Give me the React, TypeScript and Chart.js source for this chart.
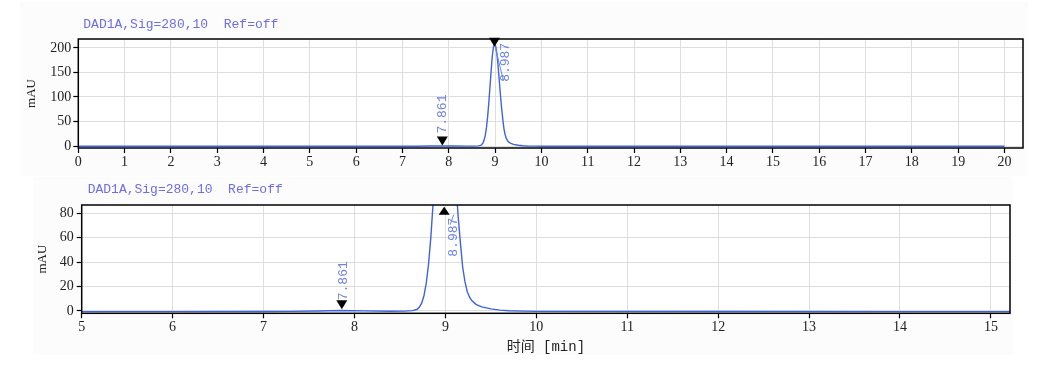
import React, { useEffect, useRef } from "react";
import { Chart, registerables } from "chart.js";

Chart.register(...registerables);

// ---- data ----
const timeMin = [
  0, 2, 4, 6, 7, 7.3, 7.6, 7.861, 8.1, 8.4, 8.55, 8.64, 8.69, 8.715, 8.74, 8.765,
  8.79, 8.815, 8.84, 8.865, 8.89, 8.915, 8.94, 8.965, 8.99, 9.015, 9.04, 9.065,
  9.09, 9.115, 9.14, 9.165, 9.19, 9.215, 9.24, 9.265, 9.29, 9.34, 9.4, 9.5, 9.6,
  9.7, 9.85, 10, 12, 14, 16, 18, 20,
];
const signalMAU = [
  -0.5, -0.5, -0.5, -0.5, -0.4, -0.3, 0, 0.4, 0.1, -0.2, -0.1, 0.3, 1.4, 3.2, 6.6, 12.7,
  22.9, 38.5, 60.3, 88.4, 120.7, 153.8, 182.9, 202, 208, 203, 187, 163,
  134, 105, 78, 56, 36, 24, 16, 11.5, 8.5, 5.2, 3.3, 1.7, 0.7,
  0.2, -0.1, -0.3, -0.4, -0.5, -0.5, -0.5, -0.5,
];

const topXTicks = [0, 1, 2, 3, 4, 5, 6, 7, 8, 9, 10, 11, 12, 13, 14, 15, 16, 17, 18, 19, 20];
const topYTicks = [0, 50, 100, 150, 200];
const bottomXTicks = [5, 6, 7, 8, 9, 10, 11, 12, 13, 14, 15];
const bottomYTicks = [0, 20, 40, 60, 80];

const peakTimes = [7.861, 8.987];
const peakLabels = ["7.861", "8.987"];
const topMarkerValues = [1, 202];
const bottomMarkerValues = [1.4, 85.4];
const bottomMarkerUp = [false, true];

const signalTitle = "DAD1A,Sig=280,10  Ref=off";
const yAxisTitle = "mAU";
const xAxisTitle = "时间 [min]";

// ---- styles ----
const LINE = "#3e63dd";
const LABEL = "#6f86e6";
const TITLE = "#6d6de8";
const TICK = "#222";
const GRID = "#dedede";
const SERIF = '"Liberation Serif", "Times New Roman", serif';
const MONO = '"Liberation Mono", monospace';

type Panel = {
  width: number;
  height: number;
  padTop: number;
  padRight: number;
  yWidth: number;
  xHeight: number;
  xMin: number;
  xMax: number;
  yMin: number;
  yMax: number;
  xTicks: number[];
  yTicks: number[];
  markerValues: number[];
  markerUp: boolean[];
  labelDx: number[];
  labelStart: number[];
  leaders: (number[] | null)[];
  yTitlePad: number;
  yTickPad: number;
  titleDx: number;
  titleDy: number;
  showXTitle: boolean;
};

const topPanel: Panel = {
  width: 1063,
  height: 180,
  padTop: 39,
  padRight: 40,
  yWidth: 78.3,
  xHeight: 32,
  xMin: 0,
  xMax: 20.4,
  yMin: -4,
  yMax: 218,
  xTicks: topXTicks,
  yTicks: topYTicks,
  markerValues: topMarkerValues,
  markerUp: [false, false],
  labelDx: [0, 11],
  labelStart: [-12, 35],
  leaders: [null, [1, 1, 9, 34]],
  yTitlePad: 24.2,
  yTickPad: 2,
  titleDx: 5,
  titleDy: -14,
  showXTitle: false,
};

const bottomPanel: Panel = {
  width: 1063,
  height: 208,
  padTop: 25,
  padRight: 53,
  yWidth: 81.7,
  xHeight: 74.7,
  xMin: 5,
  xMax: 15.21,
  yMin: -1.9,
  yMax: 86.8,
  xTicks: bottomXTicks,
  yTicks: bottomYTicks,
  markerValues: bottomMarkerValues,
  markerUp: bottomMarkerUp,
  labelDx: [1.5, 9],
  labelStart: [-9, 50],
  leaders: [null, [6, 18, 9.5, 8]],
  yTitlePad: 35.2,
  yTickPad: 3,
  titleDx: 6,
  titleDy: -15,
  showXTitle: true,
};

function framePlugin(panel: Panel) {
  return {
    id: "chromFrame",
    beforeDraw(chart: any) {
      const { ctx, chartArea: a } = chart;
      ctx.save();
      ctx.fillStyle = "#ffffff";
      ctx.fillRect(a.left, a.top, a.right - a.left, a.bottom - a.top);
      ctx.restore();
    },
    afterDatasetsDraw(chart: any) {
      const { ctx } = chart;
      const xs = chart.scales.x;
      const ys = chart.scales.y;
      ctx.save();
      peakTimes.forEach((t, i) => {
        const px = xs.getPixelForValue(t);
        const py = ys.getPixelForValue(panel.markerValues[i]);
        ctx.fillStyle = "#000";
        ctx.beginPath();
        if (panel.markerUp[i]) {
          ctx.moveTo(px, py);
          ctx.lineTo(px - 5.5, py + 8);
          ctx.lineTo(px + 5.5, py + 8);
        } else {
          ctx.moveTo(px, py);
          ctx.lineTo(px - 5.5, py - 9);
          ctx.lineTo(px + 5.5, py - 9);
        }
        ctx.closePath();
        ctx.fill();

        const ld = panel.leaders[i];
        if (ld) {
          ctx.strokeStyle = LABEL;
          ctx.lineWidth = 1;
          ctx.beginPath();
          ctx.moveTo(px + ld[0], py + ld[1]);
          ctx.lineTo(px + ld[2], py + ld[3]);
          ctx.stroke();
        }

        ctx.save();
        ctx.translate(px + panel.labelDx[i], py + panel.labelStart[i]);
        ctx.rotate(-Math.PI / 2);
        ctx.font = `13px ${MONO}`;
        ctx.fillStyle = LABEL;
        ctx.textAlign = "left";
        ctx.textBaseline = "middle";
        ctx.fillText(peakLabels[i], 0, 0);
        ctx.restore();
      });
      ctx.restore();
    },
    afterDraw(chart: any) {
      const { ctx, chartArea: a } = chart;
      ctx.save();
      ctx.strokeStyle = "#000";
      ctx.lineWidth = 1.5;
      ctx.strokeRect(a.left, a.top, a.right - a.left, a.bottom - a.top);
      ctx.font = `13px ${MONO}`;
      ctx.fillStyle = TITLE;
      ctx.textAlign = "left";
      ctx.textBaseline = "middle";
      ctx.fillText(signalTitle, a.left + panel.titleDx, a.top + panel.titleDy);
      ctx.restore();
    },
  };
}

function makeChart(canvas: HTMLCanvasElement, panel: Panel) {
  const points = timeMin.map((t, i) => ({ x: t, y: signalMAU[i] }));
  return new Chart(canvas, {
    type: "line",
    data: {
      datasets: [
        {
          data: points,
          borderColor: LINE,
          borderWidth: 1.4,
          pointRadius: 0,
          tension: 0,
          fill: false,
        },
      ],
    },
    options: {
      animation: false,
      responsive: false,
      devicePixelRatio: 1,
      events: [],
      layout: { padding: { top: panel.padTop, right: panel.padRight, left: 0, bottom: 0 } },
      plugins: {
        legend: { display: false },
        tooltip: { enabled: false },
        title: { display: false },
      },
      scales: {
        x: {
          type: "linear",
          min: panel.xMin,
          max: panel.xMax,
          afterBuildTicks: (s: any) => {
            s.ticks = panel.xTicks.map((v) => ({ value: v }));
          },
          afterFit: (s: any) => {
            s.height = panel.xHeight;
          },
          grid: { color: GRID, tickColor: "#000", tickLength: 5, lineWidth: 1, tickWidth: 1.2 },
          border: { display: false },
          ticks: {
            font: { family: SERIF, size: 14 },
            color: TICK,
            padding: 1,
            maxRotation: 0,
            autoSkip: false,
          },
          title: {
            display: panel.showXTitle,
            text: xAxisTitle,
            color: TICK,
            font: { family: '"Liberation Mono", "Noto Sans CJK SC", monospace', size: 14 },
            padding: { top: 0, bottom: 32.6 },
          },
        },
        y: {
          type: "linear",
          min: panel.yMin,
          max: panel.yMax,
          afterBuildTicks: (s: any) => {
            s.ticks = panel.yTicks.map((v) => ({ value: v }));
          },
          afterFit: (s: any) => {
            s.width = panel.yWidth;
          },
          grid: { color: GRID, tickColor: "#000", tickLength: 5, lineWidth: 1, tickWidth: 1.2 },
          border: { display: false },
          ticks: {
            font: { family: SERIF, size: 14 },
            color: TICK,
            padding: panel.yTickPad,
            autoSkip: false,
          },
          title: {
            display: true,
            text: yAxisTitle,
            color: TICK,
            font: { family: SERIF, size: 13 },
            padding: { top: panel.yTitlePad, bottom: 0 },
          },
        },
      },
    },
    plugins: [framePlugin(panel)],
  } as any);
}

function ChromPanel({ panel, top }: { panel: Panel; top: number }) {
  const ref = useRef<HTMLCanvasElement | null>(null);
  useEffect(() => {
    if (!ref.current) return;
    const chart = makeChart(ref.current, panel);
    return () => chart.destroy();
  }, [panel]);
  return (
    <canvas
      ref={ref}
      width={panel.width}
      height={panel.height}
      style={{ position: "absolute", left: 0, top, width: panel.width, height: panel.height }}
    />
  );
}

export default function App() {
  return (
    <div
      style={{
        position: "fixed",
        left: 0,
        top: 0,
        width: 1063,
        height: 388,
        background: "#ffffff",
        overflow: "hidden",
      }}
    >
      <div style={{ position: "absolute", left: 20, top: 2, width: 1008, height: 174, background: "#fcfcfc" }} />
      <div style={{ position: "absolute", left: 33, top: 177, width: 980, height: 178, background: "#fcfcfc" }} />
      <ChromPanel panel={topPanel} top={0} />
      <ChromPanel panel={bottomPanel} top={180} />
    </div>
  );
}
